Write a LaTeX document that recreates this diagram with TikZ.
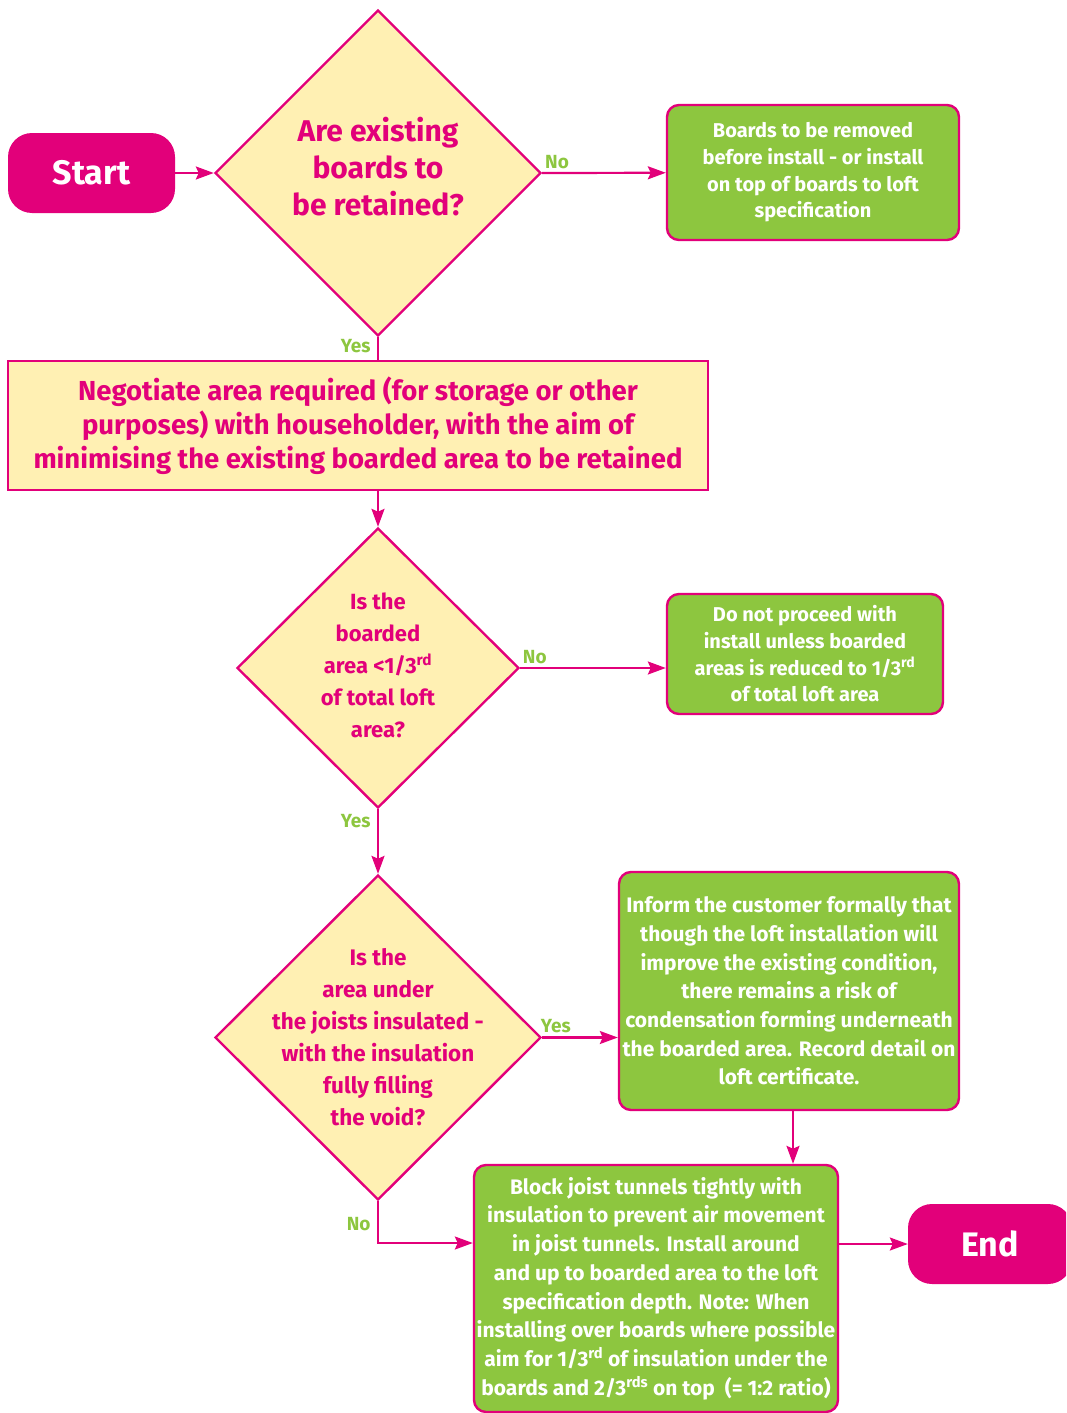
\documentclass[tikz,border=0pt]{standalone}
\usepackage{fontspec}
\setmainfont{Fira Sans}
\usetikzlibrary{positioning,shapes,arrows,arrows.meta}
\definecolor{loftpink}{HTML}{E2007A}
\definecolor{loftgreen}{HTML}{8DC63F}
\definecolor{loftcream}{HTML}{FFF0B3}
\tikzset{
  decision/.style = {shape=diamond, draw=loftpink, fill=loftcream,
                     line width=2.4pt, inner sep=0pt, aspect=1},
  question/.style = {align=center, text=loftpink, font=\bfseries},
  action/.style   = {shape=rectangle, rounded corners=12pt,
                     draw=loftpink, fill=loftgreen, line width=2.4pt,
                     text=white, align=center, inner sep=0pt},
  negotiate/.style= {shape=rectangle, draw=loftpink, fill=loftcream,
                     line width=2.4pt, text=loftpink, align=center,
                     inner sep=0pt},
  terminal/.style = {shape=rectangle, rounded corners=24pt, fill=loftpink,
                     text=white, inner sep=0pt,
                     font=\fontsize{34}{40}\selectfont\bfseries},
  answer/.style   = {text=loftgreen, font=\fontsize{19}{22}\selectfont\bfseries},
  flow/.style     = {draw=loftpink, line width=2.2pt},
  flowtip/.style  = {-{Stealth[length=18pt, width=13pt, inset=3pt]}},
}

\begin{document}
\begin{tikzpicture}[x=1pt, y=-1pt]
    \clip (0,0) rectangle (1066,1413);
    \useasboundingbox (0,0) rectangle (1066,1413);

    % terminals
    \node [terminal, minimum width=167pt, minimum height=80pt] (start) at (91.5,173) {Start};
    \node [terminal, minimum width=164pt, minimum height=80pt] (end) at (990,1244) {End};

    % questions
    \node [decision, minimum width=326pt, minimum height=326pt,
           label={[question, yshift=6pt, font=\fontsize{30}{37}\selectfont\bfseries]center:{Are existing\\boards to\\be retained?}}]
          (retain) at (378,173) {};
    \node [decision, minimum width=282pt, minimum height=280pt,
           label={[question, yshift=3pt, font=\fontsize{22}{32}\selectfont\bfseries]center:{Is the\\boarded\\area <1/3\textsuperscript{rd}\\of total loft\\area?}}]
          (third) at (378,668) {};
    \node [decision, minimum width=326pt, minimum height=325pt,
           label={[question, font=\fontsize{22.5}{32}\selectfont\bfseries]center:{Is the\\area under\\the joists insulated -\\with the insulation\\fully filling\\the void?}}]
          (joists) at (378,1037.5) {};

    % actions
    \node [negotiate, minimum width=700pt, minimum height=129pt,
           font=\fontsize{27.5}{34}\selectfont\bfseries] (talk) at (358,425.5)
          {Negotiate area required (for storage or other\\purposes) with householder, with the aim of\\minimising the existing boarded area to be retained};
    \node [action, minimum width=292pt, minimum height=135pt,
           font=\fontsize{20}{26.7}\selectfont\bfseries] (remove) at (813,172.5)
          {Boards to be removed\\before install - or install\\on top of boards to loft\\specification};
    \node [action, minimum width=276pt, minimum height=120pt,
           font=\fontsize{20}{26.7}\selectfont\bfseries] (halt) at (805,654)
          {Do not proceed with\\install unless boarded\\areas is reduced to 1/3\textsuperscript{rd}\\of total loft area};
    \node [action, minimum width=340pt, minimum height=238pt,
           font=\fontsize{21}{28.7}\selectfont\bfseries] (inform) at (789,991)
          {Inform the customer formally that\\though the loft installation will\\improve the existing condition,\\there remains a risk of\\condensation forming underneath\\the boarded area. Record detail on\\loft certificate.};
    \node [action, minimum width=364pt, minimum height=247pt,
           font=\fontsize{21}{28.7}\selectfont\bfseries] (block) at (656,1288.5)
          {Block joist tunnels tightly with\\insulation to prevent air movement\\in joist tunnels. Install around\\and up to boarded area to the loft\\specification depth. Note: When\\installing over boards where possible\\aim for 1/3\textsuperscript{rd} of insulation under the\\boards and 2/3\textsuperscript{rds} on top\ \ (= 1:2 ratio)};

    % connectors
    \coordinate (drop) at (793,0);
    \coordinate (bend) at (0,1243);
    \draw [flow, flowtip] (start) -- (retain.west);
    \draw [flow, flowtip] (retain.east) -- node [answer, above, pos=0.12] {No} (remove);
    \draw [flow] (retain.south) -- node [answer, left, pos=0.4, xshift=-3pt] {Yes} (talk.north -| retain.south);
    \draw [flow, flowtip] (talk.south -| third.north) -- (third.north);
    \draw [flow, flowtip] (third.east) -- node [answer, above, pos=0.1] {No} (halt.west |- third.east);
    \draw [flow, flowtip] (third.south) -- node [answer, left, pos=0.18, xshift=-3pt] {Yes} (joists.north);
    \draw [flow, flowtip] (joists.east) -- node [answer, above, pos=0.18] {Yes} (inform.west |- joists.east);
    \draw [flow, flowtip] (inform.south -| drop) -- (block.north -| drop);
    \draw [flow, flowtip] (joists.south) |- node [answer, left, pos=0.27, xshift=-3pt] {No} (block.west |- bend);
    \draw [flow, flowtip] (block.east |- end) -- (end);
\end{tikzpicture}
\end{document}
